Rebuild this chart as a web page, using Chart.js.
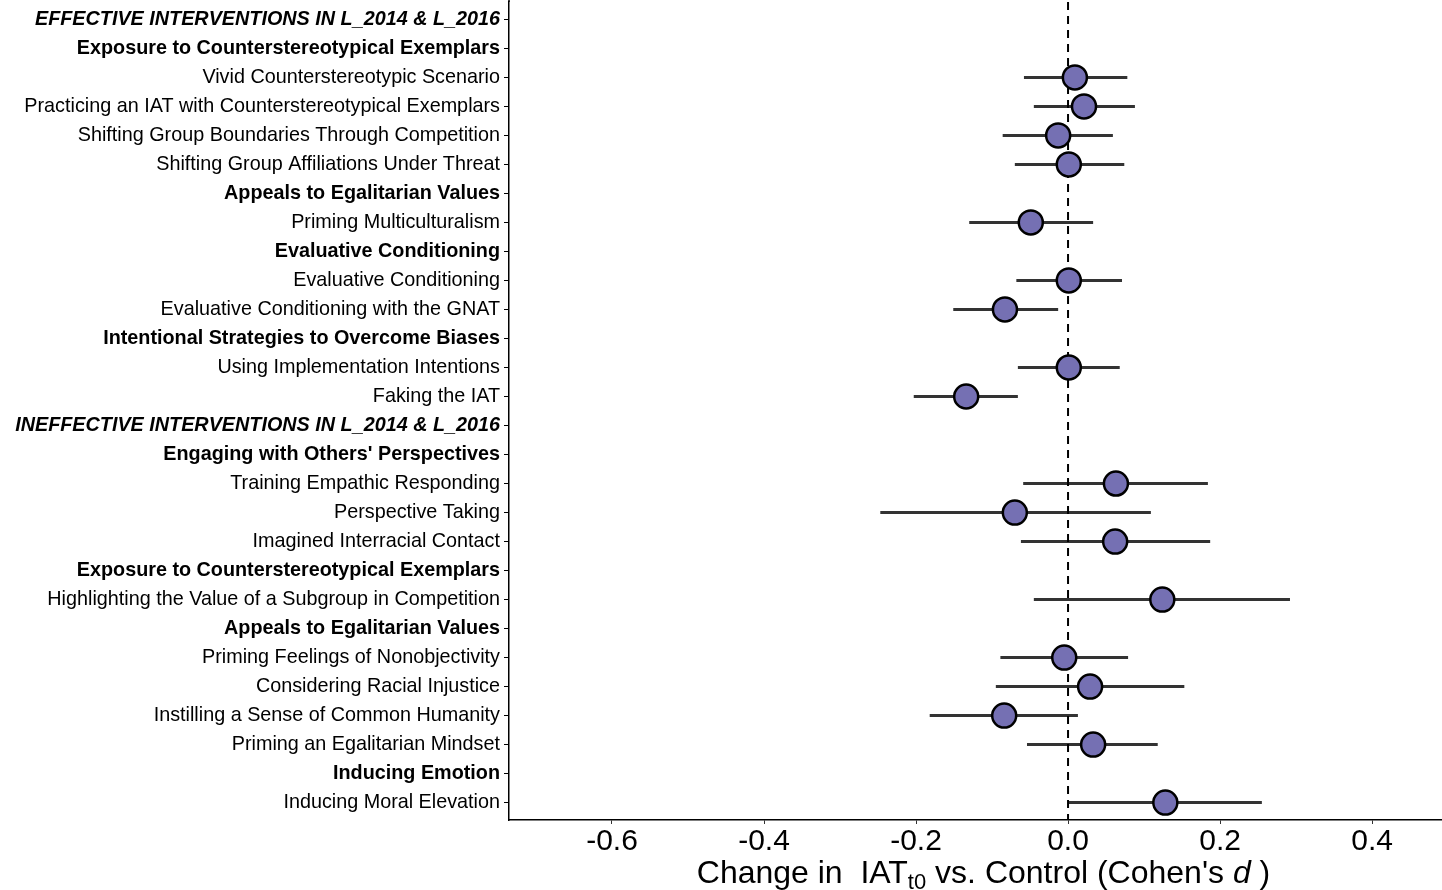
<!DOCTYPE html>
<html>
<head>
<meta charset="utf-8">
<script src="https://cdn.jsdelivr.net/npm/chart.js@4.4.1/dist/chart.umd.min.js"></script>
<style>
  body { margin: 0; background: #fff; }
  canvas { display: block; }
</style>
</head>
<body>
<canvas id="forest" width="1442" height="890"></canvas>
<script>
"use strict"

// rows, top to bottom
const labels = [
  "EFFECTIVE INTERVENTIONS IN L_2014 & L_2016",
  "Exposure to Counterstereotypical Exemplars",
  "Vivid Counterstereotypic Scenario",
  "Practicing an IAT with Counterstereotypical Exemplars",
  "Shifting Group Boundaries Through Competition",
  "Shifting Group Affiliations Under Threat",
  "Appeals to Egalitarian Values",
  "Priming Multiculturalism",
  "Evaluative Conditioning",
  "Evaluative Conditioning",
  "Evaluative Conditioning with the GNAT",
  "Intentional Strategies to Overcome Biases",
  "Using Implementation Intentions",
  "Faking the IAT",
  "INEFFECTIVE INTERVENTIONS IN L_2014 & L_2016",
  "Engaging with Others' Perspectives",
  "Training Empathic Responding",
  "Perspective Taking",
  "Imagined Interracial Contact",
  "Exposure to Counterstereotypical Exemplars",
  "Highlighting the Value of a Subgroup in Competition",
  "Appeals to Egalitarian Values",
  "Priming Feelings of Nonobjectivity",
  "Considering Racial Injustice",
  "Instilling a Sense of Common Humanity",
  "Priming an Egalitarian Mindset",
  "Inducing Emotion",
  "Inducing Moral Elevation"
];

// 2 = section title (bold italic), 1 = group (bold), 0 = intervention
const rowKind = [2, 1, 0, 0, 0, 0, 1, 0, 1, 0, 0, 1, 0, 0, 2, 1, 0, 0, 0, 1, 0, 1, 0, 0, 0, 0, 1, 0];

// Cohen's d and 95% CI
const estimate = [null, null, 0.009, 0.021, -0.013, 0.001, null, -0.049, null, 0.001, -0.083, null, 0.001, -0.134,
  null, null, 0.063, -0.070, 0.062, null, 0.124, null, -0.005, 0.029, -0.084, 0.033, null, 0.128];
const lower = [null, null, -0.058, -0.045, -0.086, -0.070, null, -0.130, null, -0.068, -0.151, null, -0.066, -0.203,
  null, null, -0.059, -0.247, -0.062, null, -0.045, null, -0.089, -0.095, -0.182, -0.054, null, 0.000];
const upper = [null, null, 0.078, 0.088, 0.059, 0.074, null, 0.033, null, 0.071, -0.013, null, 0.068, -0.066,
  null, null, 0.184, 0.109, 0.187, null, 0.292, null, 0.079, 0.153, 0.013, 0.118, null, 0.255];

const xTicks = [-0.6, -0.4, -0.2, 0.0, 0.2, 0.4];

const pointData = [];
const barData = [];
for (let i = 0; i < labels.length; i++) {
  if (estimate[i] === null) continue;
  pointData.push({ x: estimate[i], y: i });
  barData.push({ x: lower[i], y: i }, { x: upper[i], y: i }, { x: null, y: null });
}

const FONT = "'Liberation Sans', Arial, sans-serif";

// chart.js keeps half a label of room above the y axis and right of the x axis,
// ggplot does not, so stretch the plot area back to the edges
const fullArea = {
  id: "fullArea",
  afterLayout(chart) {
    const area = chart.chartArea;
    const xs = chart.scales.x;
    const ys = chart.scales.y;
    area.top = 2;
    area.right = chart.width;
    area.width = area.right - area.left;
    area.height = area.bottom - area.top;
    xs.right = area.right;
    xs.width = xs.right - xs.left;
    xs.configure();
    ys.top = area.top;
    ys.height = ys.bottom - ys.top;
    ys.configure();
  }
};

// x axis title with subscript and italic d
const axisTitle = {
  id: "axisTitle",
  afterDraw(chart) {
    const ctx = chart.ctx;
    const area = chart.chartArea;
    const parts = [
      { t: "Change in  IAT", f: "32px " + FONT, dy: 0 },
      { t: "t0", f: "22px " + FONT, dy: 6 },
      { t: " vs. Control (Cohen's ", f: "32px " + FONT, dy: 0 },
      { t: "d", f: "italic 32px " + FONT, dy: 0 },
      { t: " )", f: "32px " + FONT, dy: 0 }
    ];
    ctx.save();
    let total = 0;
    parts.forEach(p => { ctx.font = p.f; p.w = ctx.measureText(p.t).width; total += p.w; });
    let x = (area.left + area.right) / 2 - total / 2 + 8;
    const y = 883;
    ctx.fillStyle = "#000";
    ctx.textBaseline = "alphabetic";
    parts.forEach(p => {
      ctx.font = p.f;
      ctx.fillText(p.t, x, y + p.dy);
      x += p.w;
    });
    // y axis line runs to the top edge
    ctx.strokeStyle = "#000";
    ctx.lineWidth = 1.5;
    ctx.beginPath();
    ctx.moveTo(area.left, 0);
    ctx.lineTo(area.left, area.top);
    ctx.stroke();
    ctx.restore();
  }
};

new Chart(document.getElementById("forest"), {
  data: {
    datasets: [
      {
        type: "scatter",
        data: pointData,
        pointRadius: 12,
        pointHoverRadius: 12,
        pointBackgroundColor: "#7570B3",
        pointBorderColor: "#000",
        pointBorderWidth: 2.5,
        order: 0
      },
      {
        type: "line",
        data: [{ x: 0, y: -0.6 }, { x: 0, y: 27.6 }],
        borderColor: "#000",
        borderWidth: 2,
        borderDash: [8, 6],
        pointRadius: 0,
        order: 1
      },
      {
        type: "line",
        data: barData,
        borderColor: "#333",
        borderWidth: 3,
        pointRadius: 0,
        spanGaps: false,
        order: 2
      }
    ]
  },
  options: {
    responsive: false,
    animation: false,
    layout: { padding: 0 },
    plugins: {
      legend: { display: false },
      tooltip: { enabled: false }
    },
    scales: {
      x: {
        type: "linear",
        min: -0.7355,
        max: 0.492,
        afterBuildTicks: axis => { axis.ticks = xTicks.map(v => ({ value: v })); },
        afterFit: axis => { axis.height = 70; },
        grid: { drawOnChartArea: false, tickLength: 4, color: "#333", tickWidth: 1 },
        border: { display: true, color: "#000", width: 1.5 },
        ticks: {
          color: "#000",
          padding: 0,
          maxRotation: 0,
          font: { family: FONT, size: 30 },
          callback: v => v.toFixed(1)
        }
      },
      y: {
        type: "linear",
        reverse: true,
        min: -0.6,
        max: 27.6,
        afterBuildTicks: axis => { axis.ticks = labels.map((l, i) => ({ value: i })); },
        afterFit: axis => { axis.width = 509; },
        grid: { drawOnChartArea: false, tickLength: 5, color: "#000", tickWidth: 1 },
        border: { display: true, color: "#000", width: 1.5 },
        ticks: {
          autoSkip: false,
          color: "#000",
          padding: 4,
          callback: v => labels[v],
          font: ctx => {
            const kind = rowKind[ctx.index];
            return {
              family: FONT,
              size: 19.8,
              weight: kind > 0 ? "bold" : "normal",
              style: kind === 2 ? "italic" : "normal"
            };
          }
        }
      }
    }
  },
  plugins: [fullArea, axisTitle]
});
</script>
</body>
</html>
